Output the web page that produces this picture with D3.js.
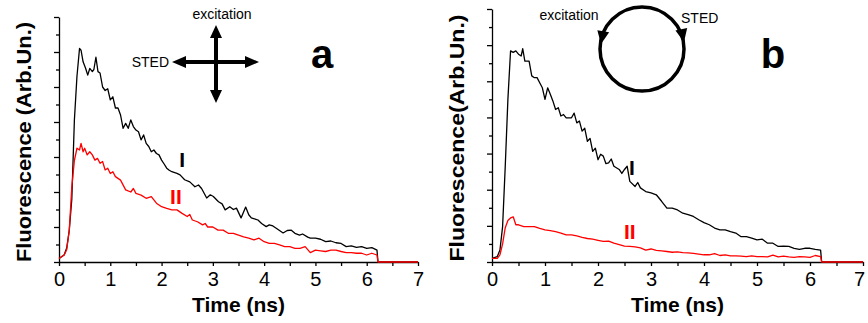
<!DOCTYPE html>
<html>
<head>
<meta charset="utf-8">
<script src="https://cdn.jsdelivr.net/npm/d3@7"></script>
<style>
  body { margin: 0; background: #fff; }
  svg { display: block; font-family: 'Liberation Sans', Arial, sans-serif; }
  .axis path, .axis line { stroke: #000; stroke-width: 1.3; }
  .axis text { font-size: 20px; fill: #000; }
</style>
</head>
<body>
<svg id="chart" width="868" height="323"></svg>
<script>
// panel a: crossed polarisations
const aCurveI = [[0,0.1],[0.1,0.2],[0.15,0.4],[0.2,0.9],[0.25,1.8],[0.3,4.05],[0.35,5.3],[0.4,6.1],[0.43,6.05],[0.47,5.72],
  [0.52,5.53],[0.56,5.34],[0.6,5.53],[0.65,5.44],[0.68,5.5],[0.72,5.85],[0.76,5.44],[0.8,5.4],[0.85,5.0],[0.9,4.9],
  [0.95,4.95],[1.0,4.63],[1.05,4.72],[1.1,4.4],[1.15,4.4],[1.2,4.2],[1.25,3.82],[1.3,3.96],[1.35,3.82],[1.4,4.06],
  [1.45,3.87],[1.5,3.77],[1.55,3.72],[1.6,3.49],[1.65,3.63],[1.7,3.39],[1.75,3.3],[1.8,3.15],[1.85,3.2],[1.9,3.1],
  [1.95,3.06],[2.0,2.91],[2.05,2.8],[2.1,2.68],[2.15,2.62],[2.2,2.58],[2.3,2.53],[2.36,2.49],[2.45,2.35],[2.55,2.29],
  [2.65,2.15],[2.72,2.2],[2.78,2.1],[2.88,1.83],[2.95,1.92],[3.01,1.87],[3.11,1.72],[3.18,1.66],[3.24,1.49],[3.33,1.58],
  [3.4,1.5],[3.46,1.54],[3.55,1.26],[3.64,1.57],[3.7,1.35],[3.75,1.26],[3.88,1.2],[3.95,1.1],[4.04,1.01],[4.1,1.06],
  [4.17,1.03],[4.25,0.95],[4.37,0.83],[4.45,0.9],[4.53,0.91],[4.6,0.82],[4.69,0.77],[4.75,0.8],[4.85,0.71],[4.9,0.68],
  [5.0,0.68],[5.1,0.65],[5.2,0.58],[5.3,0.6],[5.4,0.55],[5.5,0.53],[5.6,0.44],[5.7,0.46],[5.8,0.42],[5.9,0.44],
  [6.0,0.39],[6.1,0.41],[6.2,0.34],[6.22,0],[7,0]];
const aCurveII = [[0,0.1],[0.1,0.2],[0.15,0.35],[0.2,0.9],[0.25,2.15],[0.3,2.9],[0.35,3.25],[0.4,3.2],[0.43,3.39],[0.47,3.15],
  [0.5,3.25],[0.55,3.06],[0.6,3.15],[0.65,3.06],[0.7,2.91],[0.75,2.96],[0.8,2.82],[0.85,2.87],[0.9,2.63],[0.95,2.68],
  [1.0,2.53],[1.05,2.58],[1.1,2.44],[1.2,2.34],[1.3,2.06],[1.4,2.0],[1.45,2.1],[1.5,1.96],[1.6,1.91],[1.7,1.82],
  [1.8,1.87],[1.9,1.68],[2.0,1.58],[2.1,1.53],[2.2,1.49],[2.3,1.49],[2.4,1.39],[2.5,1.3],[2.55,1.36],[2.6,1.2],
  [2.7,1.15],[2.8,1.06],[2.85,1.1],[2.9,1.0],[3.0,1.0],[3.1,0.91],[3.2,0.91],[3.3,0.82],[3.4,0.82],[3.5,0.77],
  [3.6,0.72],[3.7,0.68],[3.8,0.63],[3.9,0.68],[4.0,0.58],[4.1,0.53],[4.2,0.53],[4.3,0.49],[4.4,0.44],[4.5,0.44],
  [4.6,0.39],[4.7,0.39],[4.8,0.44],[4.9,0.27],[5.0,0.34],[5.1,0.32],[5.2,0.3],[5.3,0.34],[5.4,0.34],[5.5,0.3],
  [5.6,0.27],[5.7,0.27],[5.8,0.25],[5.9,0.25],[6.0,0.2],[6.1,0.25],[6.2,0.2],[6.22,0],[7,0]];

// panel b: circular polarisations
const bCurveI = [[0,0.1],[0.1,0.15],[0.15,0.33],[0.2,0.98],[0.25,2.65],[0.3,4.5],[0.35,5.84],[0.4,5.8],[0.45,5.84],[0.5,5.75],
  [0.55,5.7],[0.58,5.9],[0.62,5.56],[0.7,5.56],[0.75,5.15],[0.8,5.1],[0.85,5.1],[0.9,4.96],[0.95,4.82],[1.0,4.5],
  [1.05,4.82],[1.1,4.64],[1.15,4.45],[1.2,4.22],[1.25,4.27],[1.3,4.04],[1.35,4.08],[1.4,3.99],[1.5,3.99],[1.55,4.12],
  [1.6,3.85],[1.65,3.9],[1.7,3.62],[1.75,3.7],[1.8,3.34],[1.85,3.42],[1.9,3.06],[1.95,3.15],[2.0,2.83],[2.05,2.98],
  [2.1,2.93],[2.15,2.72],[2.2,2.74],[2.25,2.85],[2.3,2.65],[2.4,2.56],[2.45,2.45],[2.5,2.56],[2.55,2.65],[2.6,2.23],
  [2.7,2.09],[2.75,2.2],[2.8,2.05],[2.9,1.95],[3.0,1.91],[3.1,1.86],[3.2,1.68],[3.3,1.49],[3.4,1.49],[3.5,1.44],
  [3.6,1.35],[3.7,1.31],[3.8,1.26],[3.9,1.17],[4.0,1.09],[4.1,1.03],[4.2,0.94],[4.3,0.89],[4.4,0.89],[4.5,0.84],
  [4.6,0.8],[4.7,0.7],[4.8,0.7],[4.9,0.66],[5.0,0.61],[5.1,0.63],[5.2,0.52],[5.3,0.52],[5.4,0.43],[5.5,0.44],
  [5.6,0.43],[5.7,0.38],[5.8,0.35],[5.9,0.38],[6.0,0.38],[6.1,0.35],[6.2,0.33],[6.22,0],[7,0]];
const bCurveII = [[0,0.1],[0.1,0.1],[0.15,0.2],[0.2,0.5],[0.25,0.95],[0.3,1.15],[0.35,1.22],[0.4,1.25],[0.45,1.03],[0.5,1.03],
  [0.6,0.98],[0.7,0.98],[0.8,0.98],[0.9,0.93],[1.0,0.89],[1.1,0.87],[1.2,0.84],[1.3,0.8],[1.4,0.75],[1.5,0.75],
  [1.6,0.72],[1.7,0.68],[1.8,0.65],[1.9,0.63],[2.0,0.6],[2.1,0.57],[2.2,0.58],[2.3,0.52],[2.4,0.48],[2.5,0.44],
  [2.6,0.43],[2.7,0.42],[2.8,0.39],[2.9,0.33],[3.0,0.36],[3.1,0.32],[3.2,0.31],[3.3,0.29],[3.4,0.27],[3.5,0.28],
  [3.6,0.26],[3.7,0.25],[3.8,0.24],[3.9,0.22],[4.0,0.2],[4.1,0.2],[4.2,0.23],[4.3,0.18],[4.4,0.2],[4.5,0.17],
  [4.6,0.17],[4.7,0.16],[4.8,0.15],[4.9,0.17],[5.0,0.15],[5.1,0.15],[5.2,0.14],[5.3,0.19],[5.4,0.14],[5.5,0.16],
  [5.6,0.14],[5.7,0.13],[5.8,0.15],[5.9,0.14],[6.0,0.13],[6.1,0.18],[6.2,0.15],[6.22,0],[7,0]];

const xTicks = [0, 1, 2, 3, 4, 5, 6, 7];
const xMinorTicks = [0.5, 1.5, 2.5, 3.5, 4.5, 5.5, 6.5];
const yTicks = [0, 1, 2, 3, 4, 5, 6, 7];
const yMinorTicks = [0.5, 1.5, 2.5, 3.5, 4.5, 5.5, 6.5];

const svg = d3.select('#chart');

function drawPanel(cfg) {
  const x = d3.scaleLinear().domain([0, 7]).range([cfg.x0, cfg.x1]);
  const y = d3.scaleLinear().domain([0, 7]).range([cfg.y0, cfg.y1]);
  const g = svg.append('g');

  // minor ticks first, then main axes on top
  g.append('g')
      .attr('class', 'axis')
      .attr('transform', `translate(0,${cfg.y0})`)
      .call(d3.axisBottom(x).tickValues(xMinorTicks).tickSize(4).tickFormat(''))
      .select('.domain').remove();
  g.append('g')
      .attr('class', 'axis')
      .attr('transform', `translate(${cfg.x0},0)`)
      .call(d3.axisLeft(y).tickValues(yMinorTicks).tickSize(3).tickFormat(''))
      .select('.domain').remove();

  const xAxis = g.append('g')
      .attr('class', 'axis')
      .attr('transform', `translate(0,${cfg.y0})`)
      .call(d3.axisBottom(x).tickValues(xTicks).tickSize(4).tickSizeOuter(0)
        .tickPadding(4).tickFormat(d3.format('d')));
  xAxis.selectAll('text').attr('dy', '0.8em');
  if (cfg.shiftLast) {
    xAxis.selectAll('text').filter(d => d === 7).attr('dx', cfg.shiftLast);
  }

  g.append('g')
      .attr('class', 'axis')
      .attr('transform', `translate(${cfg.x0},0)`)
      .call(d3.axisLeft(y).tickValues(yTicks).tickSize(5).tickSizeOuter(0).tickFormat(''));

  const line = d3.line()
      .x(d => x(d[0]))
      .y(d => y(d[1]));

  g.append('path')
      .datum(cfg.curveI)
      .attr('d', line)
      .attr('fill', 'none')
      .attr('stroke', '#000')
      .attr('stroke-width', 1.3)
      .attr('stroke-linejoin', 'round');

  g.append('path')
      .datum(cfg.curveII)
      .attr('d', line)
      .attr('fill', 'none')
      .attr('stroke', '#ff0000')
      .attr('stroke-width', 1.3)
      .attr('stroke-linejoin', 'round');

  // axis titles
  g.append('text')
      .attr('x', (cfg.x0 + cfg.x1) / 2)
      .attr('y', cfg.y0 + 50)
      .attr('text-anchor', 'middle')
      .attr('font-size', 21)
      .attr('font-weight', 'bold')
      .text('Time (ns)');

  g.append('text')
      .attr('transform', `translate(${cfg.yLabelX},${cfg.yLabelY}) rotate(-90)`)
      .attr('text-anchor', 'middle')
      .attr('font-size', 21)
      .attr('font-weight', 'bold')
      .attr('textLength', cfg.yLabelLen)
      .attr('lengthAdjust', 'spacingAndGlyphs')
      .text(cfg.yLabel);

  // curve labels
  g.append('text')
      .attr('x', x(cfg.labI[0])).attr('y', y(cfg.labI[1]))
      .attr('text-anchor', 'middle')
      .attr('font-size', 21).attr('font-weight', 'bold')
      .text('I');
  g.append('text')
      .attr('x', x(cfg.labII[0])).attr('y', y(cfg.labII[1]))
      .attr('text-anchor', 'middle')
      .attr('font-size', 21).attr('font-weight', 'bold')
      .attr('fill', '#ff0000')
      .text('II');

  // panel letter
  g.append('text')
      .attr('x', cfg.letterX).attr('y', 68)
      .attr('text-anchor', 'middle')
      .attr('font-size', 40).attr('font-weight', 'bold')
      .text(cfg.letter);

  return g;
}

function arrowHead(g, tipX, tipY, angle, len, wid) {
  // triangle pointing along angle (degrees)
  g.append('path')
      .attr('d', `M0,0 L${-len},${-wid / 2} L${-len},${wid / 2} Z`)
      .attr('transform', `translate(${tipX},${tipY}) rotate(${angle})`)
      .attr('fill', '#000');
}

const gA = drawPanel({
  x0: 59, x1: 418, y0: 262, y1: 17,
  curveI: aCurveI, curveII: aCurveII,
  yLabel: 'Fluorescence (Arb.Un.)', yLabelX: 31, yLabelY: 142, yLabelLen: 240,
  labI: [2.4, 2.71], labII: [2.28, 1.66],
  letter: 'a', letterX: 322
});

const gB = drawPanel({
  x0: 492, x1: 863, y0: 262, y1: 9,
  curveI: bCurveI, curveII: bCurveII,
  yLabel: 'Fluorescence(Arb.Un.)', yLabelX: 464, yLabelY: 138, yLabelLen: 247,
  labI: [2.64, 2.41], labII: [2.6, 0.64],
  letter: 'b', letterX: 773, shiftLast: -4
});

// polarisation sketch, panel a: crossed arrows
const cross = gA.append('g');
const cx = 216, cy = 62;
cross.append('line').attr('x1', 181).attr('x2', 250).attr('y1', cy).attr('y2', cy)
    .attr('stroke', '#000').attr('stroke-width', 4);
cross.append('line').attr('x1', cx).attr('x2', cx).attr('y1', 34).attr('y2', 95)
    .attr('stroke', '#000').attr('stroke-width', 4);
arrowHead(cross, 172, cy, 180, 14, 12);
arrowHead(cross, 259, cy, 0, 14, 12);
arrowHead(cross, cx, 25, -90, 13, 12);
arrowHead(cross, cx, 103, 90, 13, 12);
cross.append('text').attr('x', 222).attr('y', 19).attr('text-anchor', 'middle')
    .attr('font-size', 14).text('excitation');
cross.append('text').attr('x', 169).attr('y', 67).attr('text-anchor', 'end')
    .attr('font-size', 14).text('STED');

// polarisation sketch, panel b: circle with two arrows
const circ = gB.append('g');
circ.append('circle').attr('cx', 642).attr('cy', 49).attr('r', 42)
    .attr('fill', 'none').attr('stroke', '#000').attr('stroke-width', 3.5);
arrowHead(circ, 601, 44, 100, 13, 12);
arrowHead(circ, 684, 42, 78, 13, 12);
circ.append('text').attr('x', 569).attr('y', 20).attr('text-anchor', 'middle')
    .attr('font-size', 14).text('excitation');
circ.append('text').attr('x', 681).attr('y', 23).attr('text-anchor', 'start')
    .attr('font-size', 14).text('STED');
</script>
</body>
</html>
